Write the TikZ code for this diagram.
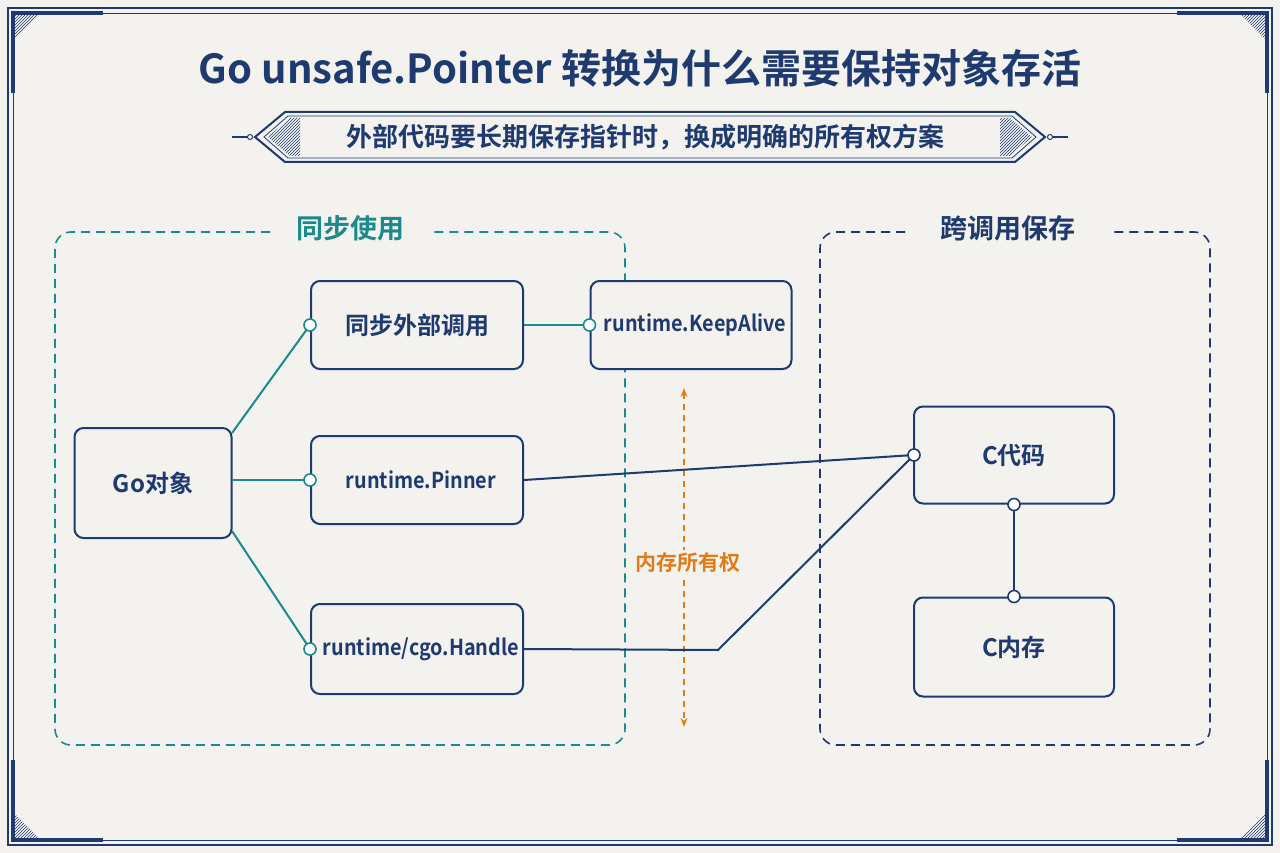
\documentclass[tikz,border=0pt]{standalone}
\usepackage{fontspec}
\setmainfont{Noto Sans CJK SC}[BoldFont={Noto Sans CJK SC Bold}]
\newfontfamily\cjk{Noto Sans CJK SC Bold}
\newfontfamily\cjkn{Noto Sans CJK SC Bold}[FakeStretch=0.9]
\usetikzlibrary{arrows.meta,patterns}
\definecolor{navy}{HTML}{1E3A6E}
\definecolor{teal2}{HTML}{1B8A8C}
\definecolor{org}{HTML}{E07B1A}
\definecolor{paper}{HTML}{F3F2EE}
\begin{document}
\begin{tikzpicture}[x=1pt,y=-1pt,
 box/.style={draw=navy,line width=2pt,rounded corners=9pt,fill=paper,text=navy,font=\cjk\fontsize{24}{28}\selectfont,minimum width=212pt,minimum height=88pt},
 rt/.style={font=\cjkn\fontsize{22}{26}\selectfont,execute at begin node=\hspace*{8pt}},
 dot/.style={circle,draw=#1,fill=white,line width=1.6pt,inner sep=0pt,minimum size=12pt},
 tl/.style={teal2,line width=2pt},
 nl/.style={navy,line width=2pt}]
\fill[paper] (0,0) rectangle (1280,853);
\useasboundingbox (0,0) rectangle (1280,853);
% frame
\draw[navy,line width=2pt] (8,8) rectangle (1272,845);
\draw[navy,line width=0.8pt] (13,13) rectangle (1267,840);
\foreach \sx/\sy/\ax/\ay in {13/13/1/1,1267/13/-1/1,13/840/1/-1,1267/840/-1/-1}{
 \begin{scope}[shift={(\sx,\sy)},xscale=\ax,yscale=\ay]
 \fill[pattern=north east lines,pattern color=navy] (0,0) -- (28,0) -- (0,28) -- cycle;
 \draw[navy,line width=3.5pt] (0,80) -- (0,0) -- (90,0);
 \end{scope}
}
% title
\node[navy,font=\cjk\fontsize{40}{46}\selectfont] (title) at (640,68) {Go unsafe.Pointer 转换为什么需要保持对象存活};
% banner
\draw[navy,line width=1.5pt] (232,137) -- (250,137) (1050,137) -- (1068,137);
\draw[navy,fill=white,line width=1pt] (250,137) circle (2.5pt) (1050,137) circle (2.5pt);
\draw[navy,line width=2pt,fill=paper] (255,137) -- (285,112) -- (1015,112) -- (1045,137) -- (1015,162) -- (285,162) -- cycle;
\draw[navy,line width=0.8pt] (264,137) -- (288,116) -- (1012,116) -- (1036,137) -- (1012,158) -- (288,158) -- cycle;
\fill[pattern=north east lines,pattern color=navy] (268,137) -- (290,118) -- (300,118) -- (300,156) -- (290,156) -- cycle;
\fill[pattern=north east lines,pattern color=navy] (1032,137) -- (1010,118) -- (1000,118) -- (1000,156) -- (1010,156) -- cycle;
\node[navy,font=\cjk\fontsize{26}{30}\selectfont] (sub) at (645,137) {外部代码要长期保存指针时，换成明确的所有权方案};
% groups
\draw[teal2,line width=1.6pt,dash pattern=on 9pt off 6pt,rounded corners=16pt] (270,232) -- (55,232) -- (55,745) -- (625,745) -- (625,232) -- (430,232);
\node[teal2,font=\cjk\fontsize{27}{30}\selectfont] (g1) at (350,228) {同步使用};
\draw[navy,line width=1.6pt,dash pattern=on 9pt off 6pt,rounded corners=16pt] (905,232) -- (820,232) -- (820,745) -- (1210,745) -- (1210,232) -- (1110,232);
\node[navy,font=\cjk\fontsize{27}{30}\selectfont] (g2) at (1008,228) {跨调用保存};
% nodes
\node[box,minimum width=157pt,minimum height=110pt] (go) at (153,483) {Go对象};
\node[box] (sync) at (417,325) {同步外部调用};
\node[box,rt,minimum width=201pt] (ka) at (691,325) {runtime.KeepAlive};
\node[box,rt] (pin) at (417,480) {runtime.Pinner};
\node[box,rt,minimum height=90pt] (hd) at (417,649) {runtime/cgo.Handle};
\node[box,minimum width=200pt,minimum height=97pt] (cc) at (1014,455) {C代码};
\node[box,minimum width=200pt,minimum height=99pt] (cm) at (1014,647) {C内存};
% orange arrow
\coordinate (oa) at (684,388); \coordinate (ob) at (684,727);
\draw[org,line width=1.6pt,dash pattern=on 6pt off 5pt,{Stealth[length=9pt]}-{Stealth[length=9pt]}] (oa) -- (ob);
\node[org,fill=paper,font=\cjk\fontsize{21}{24}\selectfont,inner sep=3pt] (own) at (688,563) {内存所有权};
% connectors
\coordinate (g1a) at (232,433); \coordinate (g1b) at (232,480); \coordinate (g1c) at (232,531);
\draw[tl] (g1a) -- (sync.west);
\draw[tl] (g1b) -- (pin.west);
\draw[tl] (g1c) -- (hd.west);
\draw[tl] (sync.east) -- (ka.west);
\node[dot=teal2] at (sync.west) {};
\node[dot=teal2] at (pin.west) {};
\node[dot=teal2] at (hd.west) {};
\node[dot=teal2] at (ka.west) {};
\coordinate (ccw) at (914,455);
\coordinate (hb) at (718,650);
\draw[nl] (pin.east) -- (ccw);
\draw[nl] (hd.east) -- (hb) -- (ccw);
\draw[nl] (cc.south) -- (cm.north);
\node[dot=navy] at (ccw) {};
\node[dot=navy] at (cc.south) {};
\node[dot=navy] at (cm.north) {};
\end{tikzpicture}
\end{document}
